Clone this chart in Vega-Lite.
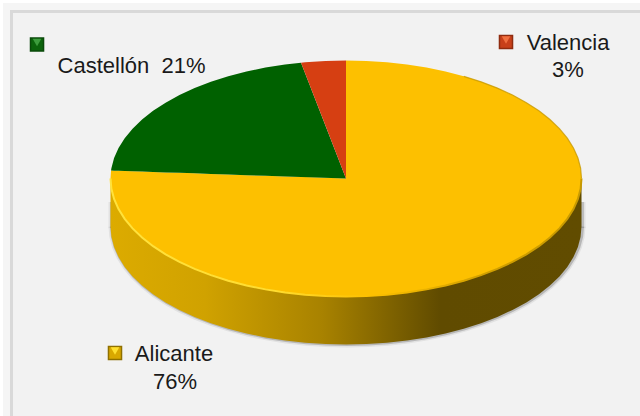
{
"$schema":"https://vega.github.io/schema/vega-lite/v6.json",
"width":640,"height":416,"padding":0,"autosize":{"type":"none"},
"background":"#ffffff",
"config":{"view":{"stroke":null}},
"datasets":{
"panels":[
{"p":"a","u":-1.4565,"u2":1.2484,"v":1.4873,"v2":-2.0127,"c":"#f5f5f5"},
{"p":"b","u":-1.4268,"u2":1.2484,"v":1.4280,"v2":-2.0127,"c":"#d9d9d9"},
{"p":"c","u":-1.4140,"u2":1.2484,"v":1.4025,"v2":-2.0127,"c":"#f2f2f2"}
],
"shadowEnds":[
{"d":"l","u":-1.0001,"v":-0.2},{"d":"l","u":-1,"v":-0.42},
{"d":"r","u":1,"v":-0.42},{"d":"r","u":1.0001,"v":-0.2}
],
"side":[
{"u":-1,"v":0,"v2":-0.407},{"u":-0.9962,"v":-0.0872,"v2":-0.4942},{"u":-0.9848,"v":-0.1736,"v2":-0.5806},{"u":-0.9659,"v":-0.2588,"v2":-0.6658},{"u":-0.9397,"v":-0.342,"v2":-0.749},{"u":-0.9063,"v":-0.4226,"v2":-0.8296},{"u":-0.866,"v":-0.5,"v2":-0.907},{"u":-0.8192,"v":-0.5736,"v2":-0.9806},{"u":-0.766,"v":-0.6428,"v2":-1.0498},{"u":-0.7071,"v":-0.7071,"v2":-1.1141},{"u":-0.6428,"v":-0.766,"v2":-1.173},{"u":-0.5736,"v":-0.8192,"v2":-1.2262},{"u":-0.5,"v":-0.866,"v2":-1.273},{"u":-0.4226,"v":-0.9063,"v2":-1.3133},{"u":-0.342,"v":-0.9397,"v2":-1.3467},{"u":-0.2588,"v":-0.9659,"v2":-1.3729},{"u":-0.1736,"v":-0.9848,"v2":-1.3918},{"u":-0.0872,"v":-0.9962,"v2":-1.4032},{"u":0,"v":-1,"v2":-1.407},
{"u":0.0872,"v":-0.9962,"v2":-1.4032},{"u":0.1736,"v":-0.9848,"v2":-1.3918},{"u":0.2588,"v":-0.9659,"v2":-1.3729},{"u":0.342,"v":-0.9397,"v2":-1.3467},{"u":0.4226,"v":-0.9063,"v2":-1.3133},{"u":0.5,"v":-0.866,"v2":-1.273},{"u":0.5736,"v":-0.8192,"v2":-1.2262},{"u":0.6428,"v":-0.766,"v2":-1.173},{"u":0.7071,"v":-0.7071,"v2":-1.1141},{"u":0.766,"v":-0.6428,"v2":-1.0498},{"u":0.8192,"v":-0.5736,"v2":-0.9806},{"u":0.866,"v":-0.5,"v2":-0.907},{"u":0.9063,"v":-0.4226,"v2":-0.8296},{"u":0.9397,"v":-0.342,"v2":-0.749},{"u":0.9659,"v":-0.2588,"v2":-0.6658},{"u":0.9848,"v":-0.1736,"v2":-0.5806},{"u":0.9962,"v":-0.0872,"v2":-0.4942},{"u":1,"v":0,"v2":-0.407}
],
"slices":[
{"s":"Alicante","u":-1,"v":0,"v2":0},{"s":"Alicante","u":-0.9977,"v":0.0675,"v2":-0.0675},{"s":"Alicante","u":-0.9962,"v":0.0674,"v2":-0.0872},{"s":"Alicante","u":-0.9848,"v":0.0667,"v2":-0.1736},{"s":"Alicante","u":-0.9659,"v":0.0654,"v2":-0.2588},{"s":"Alicante","u":-0.9397,"v":0.0636,"v2":-0.342},{"s":"Alicante","u":-0.9063,"v":0.0614,"v2":-0.4226},{"s":"Alicante","u":-0.866,"v":0.0586,"v2":-0.5},{"s":"Alicante","u":-0.8192,"v":0.0555,"v2":-0.5736},{"s":"Alicante","u":-0.766,"v":0.0519,"v2":-0.6428},{"s":"Alicante","u":-0.7071,"v":0.0479,"v2":-0.7071},{"s":"Alicante","u":-0.6428,"v":0.0435,"v2":-0.766},{"s":"Alicante","u":-0.5736,"v":0.0388,"v2":-0.8192},{"s":"Alicante","u":-0.5,"v":0.0339,"v2":-0.866},{"s":"Alicante","u":-0.4226,"v":0.0286,"v2":-0.9063},{"s":"Alicante","u":-0.342,"v":0.0232,"v2":-0.9397},{"s":"Alicante","u":-0.2588,"v":0.0175,"v2":-0.9659},{"s":"Alicante","u":-0.1736,"v":0.0118,"v2":-0.9848},{"s":"Alicante","u":-0.0872,"v":0.0059,"v2":-0.9962},{"s":"Alicante","u":-0.0001,"v":0,"v2":-1},
{"s":"Alicante","u":0,"v":1,"v2":-1},{"s":"Alicante","u":0.0872,"v":0.9962,"v2":-0.9962},{"s":"Alicante","u":0.1736,"v":0.9848,"v2":-0.9848},{"s":"Alicante","u":0.2588,"v":0.9659,"v2":-0.9659},{"s":"Alicante","u":0.342,"v":0.9397,"v2":-0.9397},{"s":"Alicante","u":0.4226,"v":0.9063,"v2":-0.9063},{"s":"Alicante","u":0.5,"v":0.866,"v2":-0.866},{"s":"Alicante","u":0.5736,"v":0.8192,"v2":-0.8192},{"s":"Alicante","u":0.6428,"v":0.766,"v2":-0.766},{"s":"Alicante","u":0.7071,"v":0.7071,"v2":-0.7071},{"s":"Alicante","u":0.766,"v":0.6428,"v2":-0.6428},{"s":"Alicante","u":0.8192,"v":0.5736,"v2":-0.5736},{"s":"Alicante","u":0.866,"v":0.5,"v2":-0.5},{"s":"Alicante","u":0.9063,"v":0.4226,"v2":-0.4226},{"s":"Alicante","u":0.9397,"v":0.342,"v2":-0.342},{"s":"Alicante","u":0.9659,"v":0.2588,"v2":-0.2588},{"s":"Alicante","u":0.9848,"v":0.1736,"v2":-0.1736},{"s":"Alicante","u":0.9962,"v":0.0872,"v2":-0.0872},{"s":"Alicante","u":1,"v":0,"v2":0},
{"s":"Castellón","u":-0.9977,"v":0.0675,"v2":0.0675},{"s":"Castellón","u":-0.9962,"v":0.0872,"v2":0.0674},{"s":"Castellón","u":-0.9848,"v":0.1736,"v2":0.0667},{"s":"Castellón","u":-0.9659,"v":0.2588,"v2":0.0654},{"s":"Castellón","u":-0.9397,"v":0.342,"v2":0.0636},{"s":"Castellón","u":-0.9063,"v":0.4226,"v2":0.0614},{"s":"Castellón","u":-0.866,"v":0.5,"v2":0.0586},{"s":"Castellón","u":-0.8192,"v":0.5736,"v2":0.0555},{"s":"Castellón","u":-0.766,"v":0.6428,"v2":0.0519},{"s":"Castellón","u":-0.7071,"v":0.7071,"v2":0.0479},{"s":"Castellón","u":-0.6428,"v":0.766,"v2":0.0435},{"s":"Castellón","u":-0.5736,"v":0.8192,"v2":0.0388},{"s":"Castellón","u":-0.5,"v":0.866,"v2":0.0339},{"s":"Castellón","u":-0.4226,"v":0.9063,"v2":0.0286},{"s":"Castellón","u":-0.342,"v":0.9397,"v2":0.0232},{"s":"Castellón","u":-0.2588,"v":0.9659,"v2":0.0175},{"s":"Castellón","u":-0.191,"v":0.9816,"v2":0.0129},{"s":"Castellón","u":0,"v":0,"v2":0},
{"s":"Valencia","u":-0.191,"v":0.9816,"v2":0.9816},{"s":"Valencia","u":-0.1736,"v":0.9848,"v2":0.8922},{"s":"Valencia","u":-0.0872,"v":0.9962,"v2":0.4482},{"s":"Valencia","u":0,"v":1,"v2":0}
],
"swatches":[
{"s":"Castellón","u":-1.312,"v":1.1356},
{"s":"Valencia","u":0.6794,"v":1.1568},
{"s":"Alicante","u":-0.9809,"v":-1.4788}
],
"labels":[
{"t":"Castellón\u00a0\u00a021%","u":-0.9108,"v":0.8941},
{"t":"Valencia","u":0.9427,"v":1.089},
{"t":"3%","u":0.9427,"v":0.8602},
{"t":"Alicante","u":-0.7304,"v":-1.5466},
{"t":"76%","u":-0.7261,"v":-1.7839}
]
},
"encoding":{
"x":{"field":"u","type":"quantitative","axis":null,"scale":{"domain":[-1.4692,1.2484],"nice":false,"zero":false}},
"y":{"field":"v","type":"quantitative","axis":null,"scale":{"domain":[-2.0127,1.5127],"nice":false,"zero":false}}
},
"layer":[
{"data":{"name":"panels"},"mark":{"type":"rect"},
 "encoding":{"x2":{"field":"u2"},"y2":{"field":"v2"},"color":{"field":"c","type":"nominal","scale":null},"order":{"field":"p"}}},
{"data":{"name":"shadowEnds"},"mark":{"type":"line","stroke":"#888888","strokeWidth":6,"opacity":0.15,"xOffset":1},
 "encoding":{"detail":{"field":"d"}}},
{"data":{"name":"shadowEnds"},"mark":{"type":"line","stroke":"#777777","strokeWidth":3,"opacity":0.35,"xOffset":1},
 "encoding":{"detail":{"field":"d"}}},
{"data":{"name":"side"},"mark":{"type":"line","stroke":"#888888","strokeWidth":6,"opacity":0.15,"xOffset":1},
 "encoding":{"y":{"field":"v2","type":"quantitative"}}},
{"data":{"name":"side"},"mark":{"type":"line","stroke":"#777777","strokeWidth":3,"opacity":0.4,"xOffset":1},
 "encoding":{"y":{"field":"v2","type":"quantitative"}}},
{"data":{"name":"side"},"mark":{"type":"area","color":{"gradient":"linear","x1":0,"x2":1,"y1":0,"y2":0,"stops":[{"offset":0,"color":"#dcab00"},{"offset":0.2,"color":"#d0a200"},{"offset":0.45,"color":"#a88200"},{"offset":0.7,"color":"#604b00"},{"offset":1,"color":"#614c00"}]}},
 "encoding":{"y2":{"field":"v2"}}},
{"data":{"name":"slices"},"mark":{"type":"area"},
 "encoding":{"y2":{"field":"v2"},"color":{"field":"s","type":"nominal","legend":null,"scale":{"domain":["Alicante","Castellón","Valencia"],"range":["#fdc000","#006100","#d63f12"]}}}},
{"data":{"name":"slices"},"transform":[{"filter":"datum.s==='Alicante' && datum.u>0.45"}],"mark":{"type":"line","stroke":"#c89a00","strokeWidth":1.2,"opacity":0.8},"encoding":{}},
{"data":{"name":"side"},"mark":{"type":"line","strokeWidth":2,"color":{"gradient":"linear","x1":0,"x2":1,"y1":0,"y2":0,"stops":[{"offset":0,"color":"#ffe23c"},{"offset":0.35,"color":"#ffdc30"},{"offset":0.55,"color":"#fdc000"},{"offset":0.8,"color":"#d09f00"},{"offset":1,"color":"#c89a00"}]}},"encoding":{}},
{"data":{"name":"swatches"},"mark":{"type":"point","shape":"square","filled":true,"size":170,"strokeWidth":1.5,"opacity":1},
 "encoding":{"fill":{"field":"s","type":"nominal","legend":null,"scale":{"domain":["Alicante","Castellón","Valencia"],"range":["#d9a800","#0c640c","#c8401a"]}},
 "stroke":{"field":"s","type":"nominal","legend":null,"scale":{"domain":["Alicante","Castellón","Valencia"],"range":["#8f7000","#0a4a0a","#8f2c10"]}}}},
{"data":{"name":"swatches"},"mark":{"type":"point","shape":"triangle-down","filled":true,"size":75,"opacity":1,"yOffset":-2},
 "encoding":{"fill":{"field":"s","type":"nominal","legend":null,"scale":{"domain":["Alicante","Castellón","Valencia"],"range":["#ffe030","#3d9d3d","#f07040"]}}}},
{"data":{"name":"labels"},"mark":{"type":"text","font":"Liberation Sans","fontSize":22,"color":"#1a1a1a","align":"center","baseline":"alphabetic"},
 "encoding":{"text":{"field":"t","type":"nominal"}}}
],
"resolve":{"scale":{"fill":"independent","stroke":"independent"}}
}
